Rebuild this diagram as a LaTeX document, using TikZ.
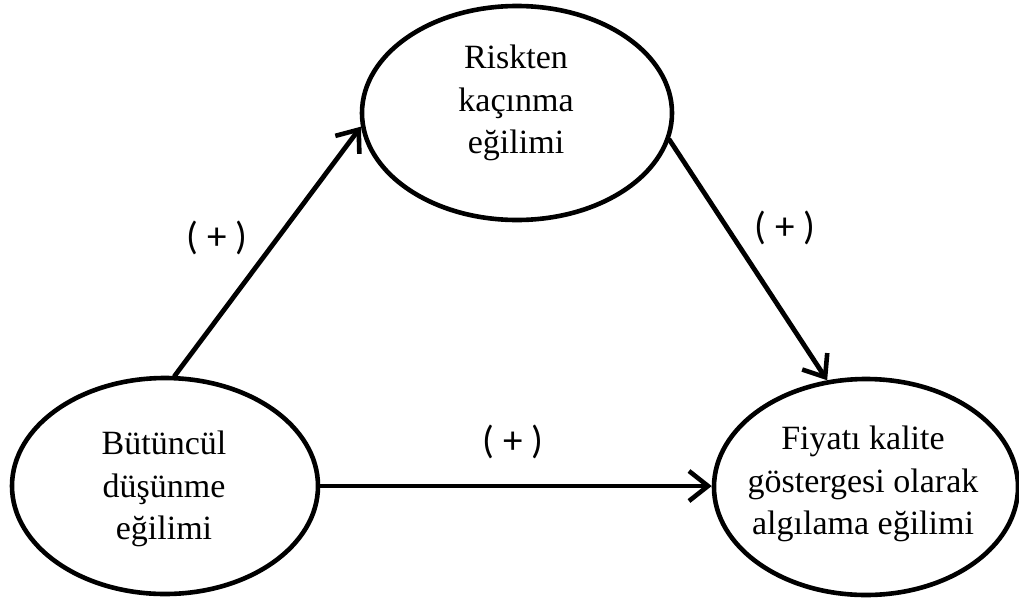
\documentclass[tikz,border=0pt]{standalone}
\usepackage{fontspec}
\setmainfont{Liberation Serif}
\newfontfamily\labelfont{Carlito}
\usetikzlibrary{shapes.geometric,arrows.meta}

\begin{document}
\begin{tikzpicture}[x=1pt,y=-1pt,
    construct/.style={ellipse, draw, line width=4.6pt, inner sep=0pt},
    construct text/.style={align=center, inner sep=0pt,
      font=\fontsize{34}{42.5}\selectfont},
    path arrow/.style={line width=4.8pt, line cap=round,
      -{Straight Barb[length=19pt, width=30pt, line width=4.6pt]}},
    sign/.style={font=\labelfont\fontsize{39}{40}\selectfont, inner sep=0pt}]
  \useasboundingbox (0,0) rectangle (1019,600);

  % constructs
  \node[construct, minimum width=310pt, minimum height=214pt] (risk) at (517,113) {};
  \node[construct, minimum width=306pt, minimum height=216pt] (holist) at (165,486) {};
  \node[construct, minimum width=304pt, minimum height=216pt] (price) at (866,487) {};

  \node[construct text] (risktxt) at (516,103) {Riskten\\kaçınma\\eğilimi};
  \node[construct text] (holisttxt) at (164,489) {Bütüncül\\düşünme\\eğilimi};
  \node[construct text] (pricetxt) at (863,484) {Fiyatı kalite\\göstergesi olarak\\algılama eğilimi};

  % hypothesised paths
  \draw[path arrow] (holist.85.2) -- (risk.185.5);
  \draw[path arrow] (risk.-10.8) -- (price.110.6);
  \draw[path arrow] (holist.east) -- (holist.east -| price.west);

  % signs of the paths
  \node[sign] (s1) at (217,238) {( + )};
  \node[sign] (s2) at (785,228) {( + )};
  \node[sign] (s3) at (513,442) {( + )};
\end{tikzpicture}
\end{document}
